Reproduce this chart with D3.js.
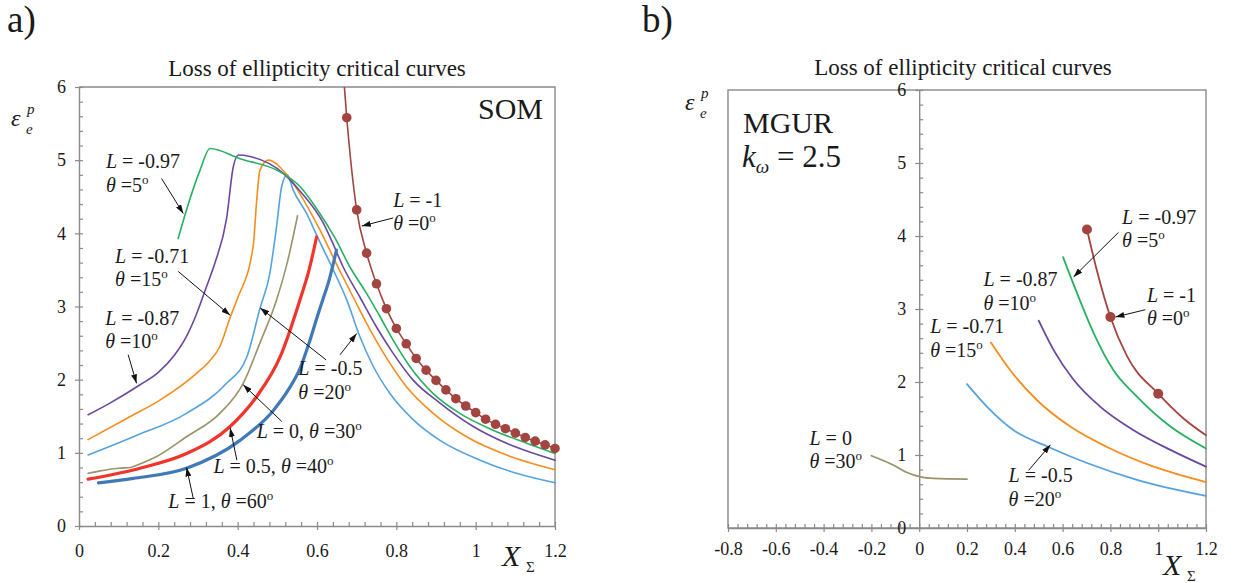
<!DOCTYPE html>
<html>
<head>
<meta charset="utf-8">
<script src="https://cdn.jsdelivr.net/npm/d3@7"></script>
<style>
body { margin: 0; background: #fff; }
</style>
</head>
<body>
<svg id="chart" width="1233" height="583"></svg>
<script>
var FONT = "Liberation Serif, Tinos, Times New Roman, DejaVu Serif, serif";

// ---------- panel a) SOM : [X_sigma, eps] ----------
var somL097 = [[0.25,3.93],[0.271,4.32],[0.305,4.86],[0.33,5.16],[0.406,5.02],[0.507,4.84],[0.557,4.64],[0.6,4.33],[0.645,3.94],[0.683,3.54],[0.725,3.18],[0.759,2.86],[0.792,2.54],[0.834,2.18],[0.893,1.81],[0.96,1.54],[1.044,1.31],[1.129,1.13],[1.2,0.99]];
var somL087 = [[0.023,1.52],[0.078,1.68],[0.154,1.93],[0.2,2.1],[0.24,2.33],[0.27,2.58],[0.295,2.88],[0.32,3.25],[0.343,3.6],[0.372,4.2],[0.389,4.91],[0.402,5.07],[0.431,5.05],[0.515,4.82],[0.557,4.58],[0.616,4.14],[0.637,3.9],[0.666,3.54],[0.708,3.13],[0.75,2.72],[0.792,2.36],[0.843,1.99],[0.91,1.68],[0.994,1.36],[1.078,1.13],[1.2,0.9]];
var somL071 = [[0.023,1.18],[0.12,1.47],[0.204,1.72],[0.297,2.09],[0.33,2.26],[0.355,2.45],[0.381,2.85],[0.398,3.09],[0.439,3.82],[0.448,4.45],[0.456,4.86],[0.477,5.0],[0.524,4.8],[0.557,4.54],[0.607,4.05],[0.65,3.57],[0.691,3.13],[0.734,2.68],[0.776,2.29],[0.826,1.9],[0.893,1.54],[0.977,1.22],[1.078,0.97],[1.2,0.77]];
var somL05 = [[0.023,0.97],[0.137,1.22],[0.271,1.54],[0.372,1.95],[0.423,2.31],[0.456,2.97],[0.481,3.45],[0.498,4.09],[0.511,4.64],[0.525,4.8],[0.54,4.59],[0.574,4.27],[0.603,3.93],[0.641,3.5],[0.675,3.09],[0.708,2.59],[0.742,2.18],[0.784,1.81],[0.843,1.45],[0.91,1.17],[1.011,0.9],[1.103,0.72],[1.2,0.59]];
var somL0 = [[0.023,0.72],[0.05,0.75],[0.1,0.79],[0.13,0.8],[0.15,0.84],[0.196,0.95],[0.271,1.22],[0.355,1.54],[0.414,1.95],[0.456,2.5],[0.498,3.09],[0.525,3.6],[0.551,4.24]];
var somLp05 = [[0.023,0.64],[0.154,0.79],[0.271,0.99],[0.381,1.36],[0.448,1.77],[0.507,2.31],[0.557,3.09],[0.58,3.5],[0.599,3.95]];
var somL1 = [[0.049,0.59],[0.137,0.65],[0.271,0.79],[0.406,1.17],[0.49,1.58],[0.53,1.88],[0.557,2.15],[0.58,2.5],[0.6,2.85],[0.615,3.1],[0.63,3.35],[0.649,3.77]];
var somL1mStart = [[0.662,6.5]];
var somL1mX = [0.675,0.7,0.725,0.75,0.775,0.8,0.825,0.85,0.875,0.9,0.925,0.95,0.975,1.0,1.025,1.05,1.075,1.1,1.125,1.15,1.175,1.2];
var somL1mY = [5.58,4.32,3.73,3.31,2.97,2.70,2.49,2.29,2.13,1.99,1.86,1.74,1.64,1.55,1.46,1.39,1.33,1.27,1.21,1.16,1.11,1.06];

// ---------- panel b) MGUR ----------
var mgL1m = [[0.702,4.09],[0.744,3.52],[0.8,2.89],[0.87,2.35],[1.0,1.84],[1.106,1.5],[1.2,1.27]];
var mgL1mDots = [[0.702,4.09],[0.8,2.89],[1.0,1.84]];
var mgL097 = [[0.602,3.71],[0.66,3.22],[0.73,2.67],[0.813,2.16],[0.911,1.8],[1.051,1.39],[1.2,1.09]];
var mgL087 = [[0.5,2.84],[0.562,2.44],[0.646,2.03],[0.758,1.66],[0.897,1.34],[1.051,1.07],[1.2,0.84]];
var mgL071 = [[0.3,2.54],[0.381,2.16],[0.493,1.75],[0.632,1.39],[0.786,1.11],[0.981,0.84],[1.2,0.63]];
var mgL05 = [[0.2,1.97],[0.284,1.66],[0.395,1.34],[0.541,1.11],[0.702,0.89],[0.911,0.66],[1.2,0.44]];
var mgL0 = [[-0.2,0.99],[-0.107,0.86],[-0.051,0.76],[0.005,0.7],[0.06,0.68],[0.2,0.67]];

var ticksA = [0,0.2,0.4,0.6,0.8,1,1.2];
var ticksB = [-0.8,-0.6,-0.4,-0.2,0,0.2,0.4,0.6,0.8,1,1.2];
var ticksY = [0,1,2,3,4,5,6];

// annotations (data coords of first baseline, arrows as [x1,y1,x2,y2])
var annA = [
  {x:0.068, y:4.89, L:"-0.97", th:"5", arrows:[[0.208,4.75,0.263,4.27]]},
  {x:0.091, y:3.60, L:"-0.71", th:"15", arrows:[[0.25,3.48,0.381,2.88]]},
  {x:0.066, y:2.75, L:"-0.87", th:"10", arrows:[[0.124,2.34,0.145,1.95]]},
  {x:0.553, y:2.06, L:"-0.5", th:"20", arrows:[[0.623,2.27,0.457,2.98],[0.658,2.34,0.70,2.63]]},
  {x:0.448, y:1.20, L:"0", th:"30", one:true, arrows:[[0.511,1.43,0.414,1.93]]},
  {x:0.339, y:0.72, L:"0.5", th:"40", one:true, arrows:[[0.398,0.90,0.381,1.34]]},
  {x:0.225, y:0.24, L:"1", th:"60", one:true, arrows:[[0.288,0.38,0.271,0.80]]},
  {x:0.792, y:4.36, L:"-1", th:"0", arrows:[[0.792,4.21,0.713,4.10]]}
];
var annB = [
  {x:0.849, y:4.17, L:"-0.97", th:"5", arrows:[[0.834,4.05,0.646,3.44]]},
  {x:0.269, y:3.31, L:"-0.87", th:"10", arrows:[]},
  {x:0.046, y:2.67, L:"-0.71", th:"15", arrows:[]},
  {x:0.953, y:3.10, L:"-1", th:"0", arrows:[[0.946,2.99,0.821,2.89]]},
  {x:0.374, y:0.63, L:"-0.5", th:"20", arrows:[[0.458,0.79,0.549,1.14]]},
  {x:-0.459, y:1.14, L:"0", th:"30", arrows:[]}
];

var axisColor = "#8a8a8a";
var svg = d3.select("#chart").attr("font-family", FONT);

// arrow head
var defs = svg.append("defs");
defs.append("marker")
    .attr("id","arr").attr("markerUnits","userSpaceOnUse")
    .attr("markerWidth",9).attr("markerHeight",6)
    .attr("refX",9).attr("refY",3).attr("orient","auto")
  .append("path").attr("d","M0,0 L9,3 L0,6 z").attr("fill","#111");

var xa = d3.scaleLinear().domain([0,1.2]).range([79,555]);
var ya = d3.scaleLinear().domain([0,6]).range([526,87]);
var xb = d3.scaleLinear().domain([-0.8,1.2]).range([728,1206]);
var yb = d3.scaleLinear().domain([0,6]).range([528,90]);

function fmt(d){ return String(+d.toFixed(1)); }

function txt(x, y, size){
  return svg.append("text").attr("x",x).attr("y",y).attr("font-family",FONT)
    .attr("font-size",size).attr("fill","#1a1a1a");
}

function styleAxis(g){
  g.attr("font-family",FONT).attr("font-size",18);
  g.selectAll("path.domain").attr("stroke",axisColor).attr("stroke-width",1.4);
  g.selectAll(".tick line").attr("stroke",axisColor).attr("stroke-width",1.2);
  g.selectAll(".tick text").attr("fill","#1a1a1a");
}

function drawAxes(x, y, xTicks, yAt, xPad, box){
  var x0 = x.range()[0], x1 = x.range()[1], y0 = y.range()[0], y1 = y.range()[1];
  if (box) {
    svg.append("rect").attr("x",x0).attr("y",y1).attr("width",x1-x0).attr("height",y0-y1)
      .attr("fill","none").attr("stroke",axisColor).attr("stroke-width",1.4);
  } else {
    svg.append("path").attr("d","M"+x0+","+y1+"H"+x1+"V"+y0)
      .attr("fill","none").attr("stroke",axisColor).attr("stroke-width",1.4);
  }
  var minorX = d3.range(x.domain()[0], x.domain()[1]+0.001, 0.04);
  var minorY = d3.range(0, 6.001, 0.2);
  var gx = svg.append("g").attr("transform","translate(0,"+y0+")")
    .call(d3.axisBottom(x).tickValues(xTicks).tickSize(4).tickSizeOuter(0).tickPadding(xPad).tickFormat(fmt));
  styleAxis(gx);
  var gxm = svg.append("g").attr("transform","translate(0,"+y0+")")
    .call(d3.axisTop(x).tickValues(minorX).tickSize(4).tickSizeOuter(0).tickFormat(""));
  styleAxis(gxm); gxm.select("path.domain").remove();
  var gy = svg.append("g").attr("transform","translate("+x(yAt)+",0)")
    .call(d3.axisLeft(y).tickValues(ticksY).tickSize(4).tickSizeOuter(0).tickPadding(9).tickFormat(d3.format("d")));
  styleAxis(gy);
  var gym = svg.append("g").attr("transform","translate("+x(yAt)+",0)")
    .call(d3.axisRight(y).tickValues(minorY).tickSize(4).tickSizeOuter(0).tickFormat(""));
  styleAxis(gym); gym.select("path.domain").remove();
}

drawAxes(xa, ya, ticksA, 0, 14, false);
drawAxes(xb, yb, ticksB, 0, 10, true);

defs.append("clipPath").attr("id","clipA")
  .append("rect").attr("x",79).attr("y",87).attr("width",476).attr("height",439);

function plotLine(x, y, data, color, width, clip){
  var line = d3.line().x(function(d){ return x(d[0]); }).y(function(d){ return y(d[1]); })
    .curve(d3.curveMonotoneX);
  var p = svg.append("path").datum(data).attr("d",line)
    .attr("fill","none").attr("stroke",color).attr("stroke-width",width)
    .attr("stroke-linejoin","round").attr("stroke-linecap","round");
  if (clip) p.attr("clip-path","url(#"+clip+")");
}
function plotDots(x, y, data, color, r){
  svg.append("g").selectAll("circle").data(data).enter().append("circle")
    .attr("cx",function(d){ return x(d[0]); }).attr("cy",function(d){ return y(d[1]); })
    .attr("r",r).attr("fill",color);
}

var cGreen="#27b062", cPurple="#6b479f", cOrange="#f68d1f", cLBlue="#55a3de",
    cOlive="#99936a", cRed="#f1352a", cBlue="#4079b8", cBrown="#a2443f";

// panel a curves
plotLine(xa, ya, somL05, cLBlue, 1.6);
plotLine(xa, ya, somL071, cOrange, 1.6);
plotLine(xa, ya, somL087, cPurple, 1.6);
plotLine(xa, ya, somL097, cGreen, 1.6);
plotLine(xa, ya, somL0, cOlive, 1.6);
plotLine(xa, ya, somLp05, cRed, 3.2);
plotLine(xa, ya, somL1, cBlue, 3.2);
var somL1m = somL1mX.map(function(v,i){ return [v, somL1mY[i]]; });
plotLine(xa, ya, somL1mStart.concat(somL1m), cBrown, 1.6, "clipA");
plotDots(xa, ya, somL1m, cBrown, 4.8);

// panel b curves
plotLine(xb, yb, mgL05, cLBlue, 1.8);
plotLine(xb, yb, mgL071, cOrange, 1.8);
plotLine(xb, yb, mgL087, cPurple, 1.8);
plotLine(xb, yb, mgL097, cGreen, 1.8);
plotLine(xb, yb, mgL1m, cBrown, 1.8);
plotLine(xb, yb, mgL0, cOlive, 1.8);
plotDots(xb, yb, mgL1mDots, cBrown, 5);

// annotations
function thetaPart(t, v){
  t.append("tspan").attr("font-style","italic").text("\u03b8");
  t.append("tspan").text(" =" + v);
  t.append("tspan").attr("dy",-8).attr("font-size",13).text("o");
}
function annotate(x, y, list){
  list.forEach(function(a){
    var t = txt(x(a.x), y(a.y), 20);
    t.append("tspan").attr("font-style","italic").text("L");
    if (a.one) {
      t.append("tspan").text(" = " + a.L + ", ");
      thetaPart(t, a.th);
    } else {
      t.append("tspan").text(" = " + a.L);
      thetaPart(txt(x(a.x), y(a.y) + 23.5, 20), a.th);
    }
    a.arrows.forEach(function(r){
      svg.append("line").attr("x1",x(r[0])).attr("y1",y(r[1])).attr("x2",x(r[2])).attr("y2",y(r[3]))
        .attr("stroke","#111").attr("stroke-width",1).attr("marker-end","url(#arr)");
    });
  });
}
annotate(xa, ya, annA);
annotate(xb, yb, annB);

// titles and labels
txt((xa.range()[0] + xa.range()[1]) / 2, 76, 23).attr("text-anchor","middle").text("Loss of ellipticity critical curves");
txt(963, 75, 23).attr("text-anchor","middle").text("Loss of ellipticity critical curves");
txt(7, 32, 37).text("a)");
txt(642, 32, 37).text("b)");
txt(478, 119, 30).text("SOM");
txt(743, 133, 30).text("MGUR");
var kt = txt(742, 167, 31);
kt.append("tspan").attr("font-style","italic").text("k");
kt.append("tspan").attr("dy",6).attr("font-size",19).attr("font-style","italic").text("\u03c9");
kt.append("tspan").attr("dy",-6).text(" = 2.5");

// epsilon_e^p : p raised, e lowered, kept apart
function epsLabel(x, y0){
  txt(x, y0, 24).attr("font-style","italic").text("\u03b5");
  txt(x + 16, y0 - 12, 15).attr("font-style","italic").text("p");
  txt(x + 15, y0 + 8, 15).attr("font-style","italic").text("e");
}
epsLabel(11, 126);
epsLabel(685, 110);

function xLabel(x, y0){
  txt(x, y0, 30).attr("font-style","italic").text("X");
  txt(x + 24, y0 + 6, 15).text("\u03a3");
}
xLabel(502, 566);
xLabel(1163, 575);
</script>
</body>
</html>
